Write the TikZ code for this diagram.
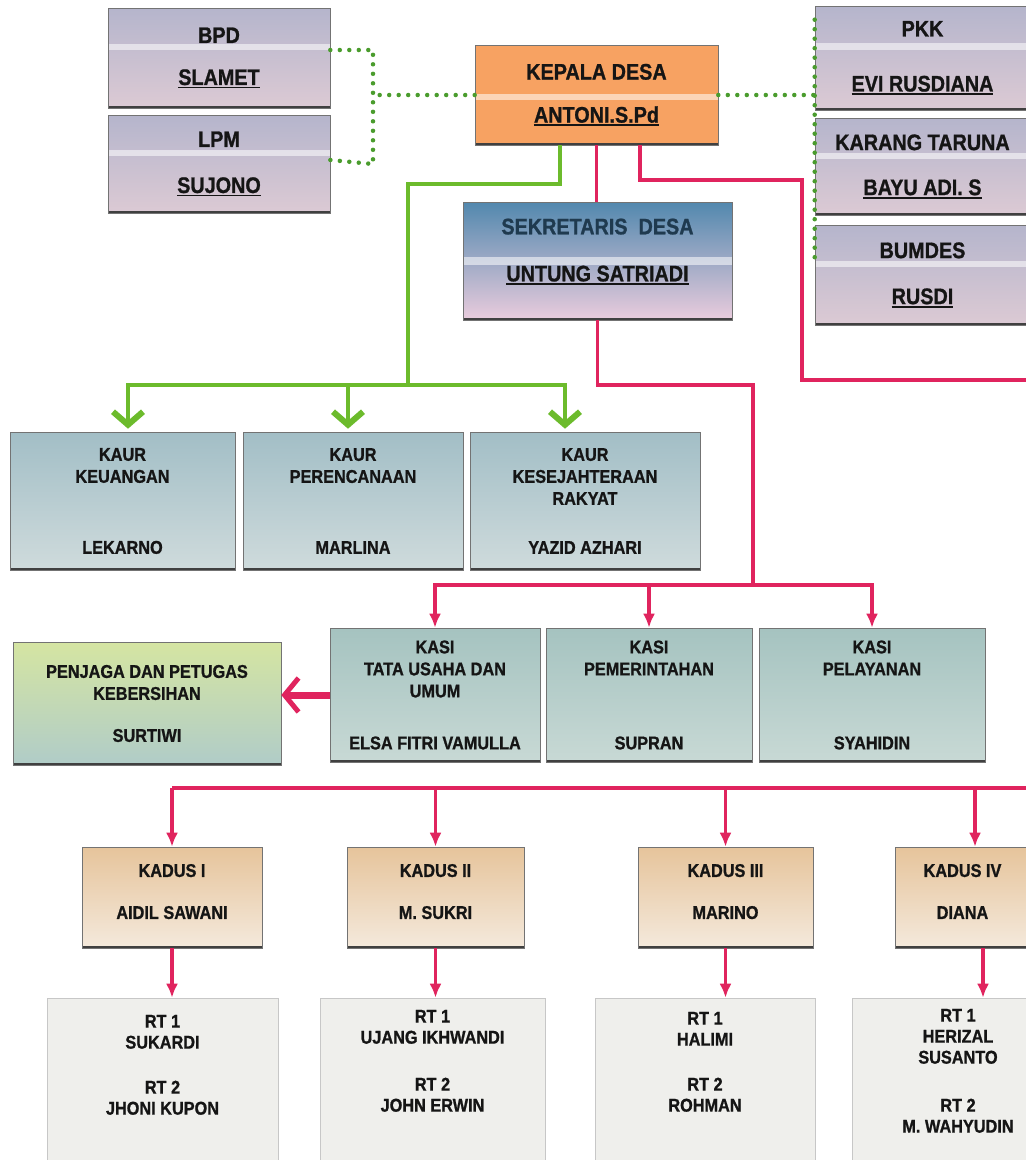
\documentclass[tikz,border=0pt]{standalone}
\usepackage{fontspec}
\setmainfont{Liberation Sans}
\newfontfamily\orgfont{Liberation Sans}[UprightFont={* Bold}, FakeStretch=0.88, FakeBold=1]
\usetikzlibrary{arrows.meta,calc}
\definecolor{lavtop}{HTML}{B5B5CC}
\definecolor{pinkbot}{HTML}{DCCAD4}
\definecolor{orangebox}{HTML}{F7A262}
\definecolor{sektop}{HTML}{5288AE}
\definecolor{sekmid}{HTML}{BCD2DB}
\definecolor{sekbot}{HTML}{EACCDD}
\definecolor{kaurtop}{HTML}{A2BEC6}
\definecolor{kaurbot}{HTML}{CFDBDC}
\definecolor{kasitop}{HTML}{A5C3C0}
\definecolor{kasibot}{HTML}{C8D9D5}
\definecolor{penjtop}{HTML}{D5E5A2}
\definecolor{penjbot}{HTML}{B0CCC8}
\definecolor{kadtop}{HTML}{E6C49B}
\definecolor{kadbot}{HTML}{F4E9DC}
\definecolor{rtfill}{HTML}{EFEFEC}
\definecolor{gline}{HTML}{6CBB2C}
\definecolor{gdot}{HTML}{4A9C2D}
\definecolor{rline}{HTML}{E0245E}
\definecolor{txt}{HTML}{151515}
\definecolor{sektxt}{HTML}{1F3A4F}
\newcommand\ulx[1]{\setbox0\hbox{#1}\rlap{\rule[-3.5pt]{\wd0}{1.8pt}}\box0}
\tikzset{
  base/.style={rectangle, draw=black!55, line width=0.6pt, align=center, inner sep=0pt,
    text=txt, font=\orgfont\fontsize{18.5}{22}\selectfont},
  shadowline/.style={path picture={
    \draw[line width=5pt, black!75] (path picture bounding box.south west) -- (path picture bounding box.south east);}},
  stripedshadow/.style={path picture={
    \fill[white, opacity=.55] ($(path picture bounding box.north west)!#1!(path picture bounding box.south west)$)
       rectangle ($(path picture bounding box.north east)!#1+0.06!(path picture bounding box.south east)$);
    \draw[line width=5pt, black!75] (path picture bounding box.south west) -- (path picture bounding box.south east);}},
  topbox/.style={base, top color=lavtop, bottom color=pinkbot, stripedshadow=0.36,
    font=\orgfont\fontsize{22.5}{25}\selectfont},
  headbox/.style={base, fill=orangebox, stripedshadow=0.49,
    font=\orgfont\fontsize{22.5}{25}\selectfont},
  sekbox/.style={base, top color=sektop, middle color=sekmid, bottom color=sekbot, stripedshadow=0.47,
    font=\orgfont\fontsize{22.5}{25}\selectfont},
  kaurbox/.style={base, top color=kaurtop, bottom color=kaurbot, shadowline},
  kasibox/.style={base, top color=kasitop, bottom color=kasibot, shadowline},
  penjbox/.style={base, top color=penjtop, bottom color=penjbot, shadowline},
  kadbox/.style={base, top color=kadtop, bottom color=kadbot, shadowline},
  rtbox/.style={rectangle, fill=rtfill, draw=black!22, line width=0.6pt},
  rttext/.style={align=center, inner sep=0pt, text=txt, font=\orgfont\fontsize{18.5}{21}\selectfont},
  greenline/.style={draw=gline, line width=4pt},
  greenarrow/.style={draw=gline, line width=4pt, -{Straight Barb[length=13pt, width=30pt, line width=6pt]}},
  redline/.style={draw=rline, line width=3.2pt},
  redarrow/.style={draw=rline, line width=3.2pt, -{Latex[length=14pt, width=12pt]}},
  bigredarrow/.style={draw=rline, line width=7pt, -{Straight Barb[length=14pt, width=34pt, line width=5pt]}},
  dotted green/.style={draw=gdot, line width=4.5pt, dash pattern=on 0pt off 9.5pt, line cap=round},
}
\begin{document}
\begin{tikzpicture}[x=1pt, y=-1pt]
\useasboundingbox[fill=white] (0,0) rectangle (1026,1160);
\clip (0,0) rectangle (1026,1160);

% ---------- top row ----------
\node[topbox, minimum width=222, minimum height=100] (bpd) at (219,58) {BPD\\[17pt]\ulx{SLAMET}};
\node[topbox, minimum width=222, minimum height=98] (lpm) at (219,164) {LPM\\[21pt]\ulx{SUJONO}};
\node[headbox, minimum width=243, minimum height=100] (kepala) at (596.5,95) {KEPALA DESA\\[18pt]\ulx{ANTONI.S.Pd}};
\node[topbox, minimum width=215, minimum height=104] (pkk) at (922.5,58) {PKK\\[30pt]\ulx{EVI RUSDIANA}};
\node[topbox, minimum width=215, minimum height=97] (karang) at (922.5,166.5) {KARANG TARUNA\\[20pt]\ulx{BAYU ADI. S}};
\node[topbox, minimum width=215, minimum height=100] (bumdes) at (922.5,275) {BUMDES\\[21pt]\ulx{RUSDI}};
\node[sekbox, minimum width=269, minimum height=118, text depth=22pt] (sek) at (597.5,261)
  {\textcolor{sektxt}{SEKRETARIS\ \ DESA}\\[22pt]\ulx{UNTUNG SATRIADI}};

% ---------- KAUR row ----------
\node[kaurbox, minimum width=225, minimum height=138] (kaur1) at (122.5,501) {KAUR\\KEUANGAN\\[49pt]LEKARNO};
\node[kaurbox, minimum width=220, minimum height=138] (kaur2) at (353,501) {KAUR\\PERENCANAAN\\[49pt]MARLINA};
\node[kaurbox, minimum width=230, minimum height=138] (kaur3) at (585,501) {KAUR\\KESEJAHTERAAN\\RAKYAT\\[27pt]YAZID AZHARI};

% ---------- KASI row ----------
\node[penjbox, minimum width=268, minimum height=123] (penjaga) at (147,703.5) {PENJAGA DAN PETUGAS\\KEBERSIHAN\\[20pt]SURTIWI};
\node[kasibox, minimum width=210, minimum height=134] (kasi1) at (435,695) {KASI\\TATA USAHA DAN\\UMUM\\[30pt]ELSA FITRI VAMULLA};
\node[kasibox, minimum width=206, minimum height=134] (kasi2) at (649,695) {KASI\\PEMERINTAHAN\\[52pt]SUPRAN};
\node[kasibox, minimum width=226, minimum height=134] (kasi3) at (872,695) {KASI\\PELAYANAN\\[52pt]SYAHIDIN};

% ---------- KADUS row ----------
\node[kadbox, minimum width=180, minimum height=101, text depth=12pt] (kadus1) at (172,897.5) {KADUS I\\[20pt]AIDIL SAWANI};
\node[kadbox, minimum width=177, minimum height=101, text depth=12pt] (kadus2) at (435.5,897.5) {KADUS II\\[20pt]M. SUKRI};
\node[kadbox, minimum width=175, minimum height=101, text depth=12pt] (kadus3) at (725.5,897.5) {KADUS III\\[20pt]MARINO};
\node[kadbox, minimum width=135, minimum height=101, text depth=12pt] (kadus4) at (962.5,897.5) {KADUS IV\\[20pt]DIANA};

% ---------- RT row ----------
\node[rtbox, minimum width=231, minimum height=172] (rt1) at (162.5,1084) {};
\node[rtbox, minimum width=225, minimum height=172] (rt2) at (432.5,1084) {};
\node[rtbox, minimum width=220, minimum height=172] (rt3) at (705,1084) {};
\node[rtbox, minimum width=212, minimum height=172] (rt4) at (958,1084) {};
\node[rttext, anchor=north] (rt1t) at ([yshift=-17pt]rt1.north) {RT 1\\SUKARDI\\[24pt]RT 2\\JHONI KUPON};
\node[rttext, anchor=north] (rt2t) at ([yshift=-12pt]rt2.north) {RT 1\\UJANG IKHWANDI\\[26pt]RT 2\\JOHN ERWIN};
\node[rttext, anchor=north] (rt3t) at ([yshift=-14pt]rt3.north) {RT 1\\HALIMI\\[24pt]RT 2\\ROHMAN};
\node[rttext, anchor=north] (rt4t) at ([yshift=-11pt]rt4.north) {RT 1\\HERIZAL\\SUSANTO\\[27pt]RT 2\\M. WAHYUDIN};

% ---------- dotted links ----------
\coordinate (ld) at (373,0);
\draw[dotted green] ([yshift=8pt]bpd.east) -| (ld |- lpm.east) -- ([yshift=4pt]lpm.east);
\draw[dotted green] (kepala.west) -- (kepala.west -| ld);
\draw[dotted green] (kepala.east) -- (kepala.east -| pkk.west);
\draw[dotted green] ([yshift=-14pt]pkk.north west) -- ([yshift=13pt]bumdes.west);

% ---------- green: Kepala -> KAUR ----------
\coordinate (gj) at (408,385);
\coordinate (g1) at (128,385);
\coordinate (g2) at (348,385);
\coordinate (g3) at (565,385);
\draw[greenline] ([xshift=-36.5pt]kepala.south) |- (408,184) -- (gj);
\draw[greenline, line cap=rect] (g1) -- (g3);
\draw[greenarrow] (g1) -- ([yshift=3pt]g1 |- kaur1.north);
\draw[greenarrow] (g2) -- ([yshift=3pt]g2 |- kaur2.north);
\draw[greenarrow] (g3) -- ([yshift=3pt]g3 |- kaur3.north);

% ---------- red: Kepala -> Sekretaris -> KASI ----------
\draw[redline] (kepala.south) -- (kepala.south |- sek.north);
\coordinate (rb) at (753,585);
\draw[redline] (sek.south) |- (753,385) -- (rb);
\draw[redline, line cap=rect] (kasi1.north |- rb) -- (kasi3.north |- rb);
\draw[redarrow] (kasi1.north |- rb) -- (kasi1.north);
\draw[redarrow] (kasi2.north |- rb) -- (kasi2.north);
\draw[redarrow] (kasi3.north |- rb) -- (kasi3.north);
\draw[bigredarrow] (kasi1.west) -- (kasi1.west -| penjaga.east);

% ---------- red: Kepala -> KADUS ----------
\coordinate (kb) at (0,788);
\coordinate (k4) at (975,788);
\draw[redline] ([xshift=43.5pt]kepala.south) |- (802,180) |- (1045,380) -- (1045,788) -- (kadus1.north |- kb);
\draw[redarrow] (kadus1.north |- kb) -- (kadus1.north);
\draw[redarrow] (kadus2.north |- kb) -- (kadus2.north);
\draw[redarrow] (kadus3.north |- kb) -- (kadus3.north);
\draw[redarrow] (k4) -- (k4 |- kadus4.north);

% ---------- KADUS -> RT ----------
\coordinate (k4b) at (983,0);
\draw[redarrow] (kadus1.south) -- (kadus1.south |- rt1.north);
\draw[redarrow] (kadus2.south) -- (kadus2.south |- rt2.north);
\draw[redarrow] (kadus3.south) -- (kadus3.south |- rt3.north);
\draw[redarrow] (k4b |- kadus4.south) -- (k4b |- rt4.north);
\end{tikzpicture}
\end{document}
